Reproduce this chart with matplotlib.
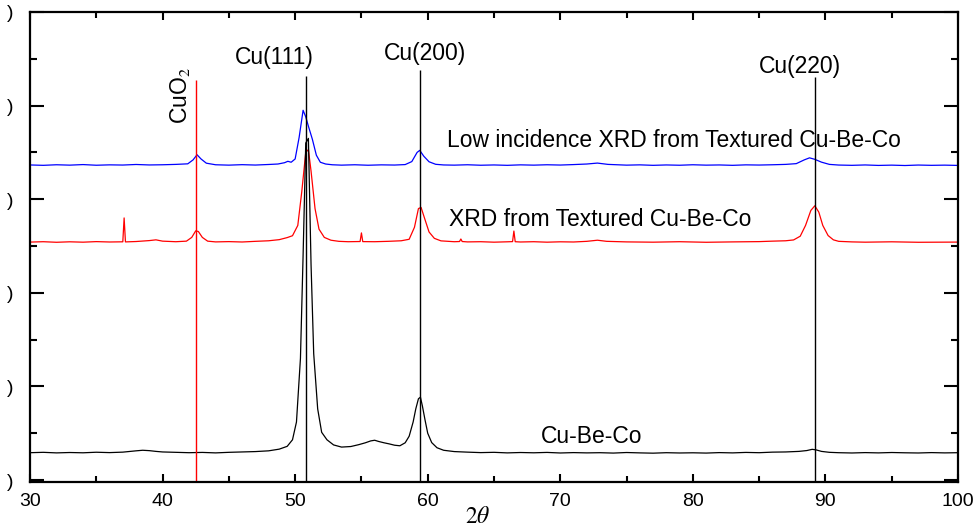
import matplotlib
matplotlib.use("Agg")
import matplotlib.pyplot as plt
from matplotlib.ticker import MultipleLocator, FixedLocator

plt.rcParams['font.family'] = ['Liberation Sans', 'DejaVu Sans']
plt.rcParams['mathtext.fontset'] = 'stix'

# Cu-Be-Co (black)
black_x = [30, 31, 32, 33, 34, 35, 36, 37, 37.5, 38, 38.5, 39, 39.5, 40, 41, 42, 43, 44, 45, 46,
           47, 48, 48.8, 49.4, 49.8, 50.1, 50.4, 50.6, 50.8, 51.0, 51.2, 51.4, 51.7, 52.0, 52.4,
           52.9, 53.5, 54.2, 54.8, 55.3, 55.7, 56.0, 56.3, 56.7, 57.1, 57.5, 57.9, 58.3, 58.6,
           58.9, 59.1, 59.3, 59.45, 59.6, 59.8, 60.0, 60.3, 60.7, 61.2, 62, 63, 64, 65, 66, 67,
           68, 69, 70, 71, 72, 73, 74, 75, 76, 77, 78, 79, 80, 81, 82, 83, 84, 85, 86, 87, 88,
           88.6, 89.0, 89.3, 89.7, 90.3, 91, 92, 93, 94, 95, 96, 97, 98, 99, 100]
black_y = [292, 296, 290, 294, 291, 297, 293, 298, 305, 312, 318, 314, 306, 300, 296, 292, 295, 290, 296, 300,
           304, 312, 330, 360, 430, 620, 1300, 2400, 3600, 3650, 2300, 1350, 760, 510, 430,
           375, 352, 358, 378, 398, 418, 425, 412, 398, 386, 372, 366, 398, 468,
           620, 760, 868, 885, 790, 640, 500, 400, 345, 318, 304, 298, 293, 296, 290, 294,
           291, 295, 289, 293, 290, 292, 288, 294, 290, 287, 292, 289, 291, 288, 293, 290, 295, 292, 298, 300, 306,
           315, 328, 322, 306, 296, 292, 289, 293, 290, 294, 291, 289, 293, 290, 292]

# XRD from Textured Cu-Be-Co (red)
red_x = [30, 31, 32, 33, 34, 35, 36, 37.0, 37.1, 37.2, 38, 39, 39.5, 40, 41, 41.8, 42.2, 42.5, 42.7,
         43.0, 43.4, 44, 45, 46, 47, 48, 48.8, 49.4, 49.8, 50.2, 50.5, 50.8, 51.0, 51.2, 51.5,
         51.8, 52.2, 52.7, 53.3, 54, 54.9, 55.0, 55.1, 56, 57, 58, 58.6, 59.0, 59.3, 59.5, 59.8,
         60.1, 60.5, 61, 62, 62.4, 62.5, 62.6, 63, 64, 65, 66, 66.4, 66.5, 66.6, 67, 68, 69, 70,
         71, 72, 72.8, 73.5, 75, 77, 79, 81, 83, 85, 86, 87, 87.6, 88.1, 88.5, 88.9, 89.2, 89.5,
         89.8, 90.2, 90.6, 91, 92, 93, 95, 97, 100]
red_y = [2542, 2546, 2540, 2545, 2541, 2547, 2543, 2545, 2800, 2544, 2548, 2558, 2566, 2552, 2546, 2552, 2592, 2662, 2655,
         2592, 2552, 2544, 2547, 2543, 2550, 2556, 2568, 2590, 2610, 2720, 3080, 3500, 3530, 3300, 2900,
         2680, 2592, 2562, 2550, 2546, 2548, 2640, 2547, 2546, 2550, 2556, 2572, 2700, 2900, 2912, 2780,
         2650, 2582, 2555, 2546, 2548, 2575, 2548, 2544, 2546, 2541, 2545, 2547, 2660, 2546, 2543, 2546, 2541, 2545,
         2543, 2550, 2562, 2550, 2544, 2541, 2546, 2540, 2544, 2547, 2552, 2556, 2565, 2605, 2720, 2880, 2930, 2862,
         2720, 2612, 2566, 2550, 2544, 2541, 2545, 2540, 2542]

# Low incidence XRD from Textured Cu-Be-Co (blue)
blue_x = [30, 31, 32, 33, 34, 35, 36, 37, 38, 39, 40, 41, 41.9, 42.3, 42.6, 42.9, 43.3, 44, 45, 46,
          47, 48, 48.7, 49.2, 49.45, 49.7, 50.0, 50.3, 50.6, 50.8, 51.0, 51.3, 51.6, 51.9, 52.3, 52.8,
          53.5, 54.5, 55.5, 56.5, 57.5, 58.3, 58.8, 59.2, 59.4, 59.7, 60.1, 60.6, 61.2, 62, 63,
          64, 65, 66, 67, 68, 69, 70, 71, 72, 72.8, 73.6, 75, 76, 77, 78, 79, 80, 81, 82, 83, 84,
          85, 86, 87, 87.8, 88.4, 88.8, 89.2, 89.7, 90.3, 91, 92, 93, 94, 95, 96, 97, 98, 99, 100]
blue_y = [3366, 3362, 3368, 3364, 3370, 3363, 3367, 3365, 3371, 3366, 3368, 3372, 3378, 3420, 3475, 3430, 3385, 3368, 3364, 3369,
          3365, 3371, 3376, 3390, 3405, 3395, 3430, 3660, 3950, 3880, 3780, 3640, 3470, 3395, 3376, 3368,
          3364, 3368, 3363, 3367, 3365, 3370, 3402, 3500, 3522, 3460, 3400, 3373, 3366, 3364, 3368,
          3363, 3366, 3362, 3367, 3364, 3368, 3365, 3370, 3376, 3386, 3372, 3364, 3367, 3362, 3366, 3363, 3368, 3364, 3366, 3362, 3367,
          3365, 3368, 3372, 3380, 3420, 3442, 3426, 3396, 3372, 3365, 3362, 3366, 3361, 3364, 3360, 3365, 3362, 3364, 3361]

# reference lines
cu_peaks = [50.8, 59.4, 89.2]
cu_tops = [4316, 4380, 4305]
cu_labels = ['Cu(111)', 'Cu(200)', 'Cu(220)']
cuo2_pos = 42.5
cuo2_top = 4273

fig = plt.figure(figsize=(9.76, 5.29), dpi=100)
ax = fig.add_axes([30 / 976, 1 - 482 / 529, 928 / 976, 470 / 529])

ax.plot(red_x, red_y, color='#ff0000', lw=0.9)
ax.plot(blue_x, blue_y, color='#0000ff', lw=0.9)
ax.plot(black_x, black_y, color='black', lw=0.9)

ax.vlines(cuo2_pos, -21, cuo2_top, color='#ff0000', lw=1.0)
ax.vlines(cu_peaks, -21, cu_tops, color='black', lw=1.0)

fs = 16.5
# peak labels
ax.text(48.4, 4513, cu_labels[0], fontsize=fs, ha='center', va='center')
ax.text(59.8, 4560, cu_labels[1], fontsize=fs, ha='center', va='center')
ax.text(88.1, 4420, cu_labels[2], fontsize=fs, ha='center', va='center')
ax.text(41.3, 4113, 'CuO$_2$', fontsize=fs, rotation=90, ha='center', va='center')

# series labels
ax.text(61.45, 3622, 'Low incidence XRD from Textured Cu-Be-Co', fontsize=fs, va='center')
ax.text(61.6, 2778, 'XRD from Textured Cu-Be-Co', fontsize=fs, va='center')
ax.text(72.4, 460, 'Cu-Be-Co', fontsize=fs, ha='center', va='center')

ax.set_xlim(30, 100)
ax.set_ylim(-21, 5000)
ax.xaxis.set_major_locator(MultipleLocator(10))
ax.xaxis.set_minor_locator(MultipleLocator(5))
ax.yaxis.set_major_locator(FixedLocator([0, 1000, 2000, 3000, 4000, 5000]))
ax.yaxis.set_minor_locator(MultipleLocator(500))
ax.set_yticklabels([')'] * 6)

ax.tick_params(which='both', direction='in', width=1.5, top=True, right=True)
ax.tick_params(axis='y', which='major', length=10)
ax.tick_params(axis='y', which='minor', length=5)
ax.tick_params(axis='x', which='major', length=6)
ax.tick_params(axis='x', which='minor', length=4)
ax.tick_params(axis='x', labelsize=14, pad=8)
ax.tick_params(axis='y', labelsize=14, pad=12)
for s in ax.spines.values():
    s.set_linewidth(1.6)

ax.set_xlabel(r'$2\theta$', fontsize=17)
ax.xaxis.set_label_coords((478 - 30) / 928, (482 - 517) / 470)
ax.xaxis.label.set_va('center')

fig.savefig('out.png', dpi=100)
